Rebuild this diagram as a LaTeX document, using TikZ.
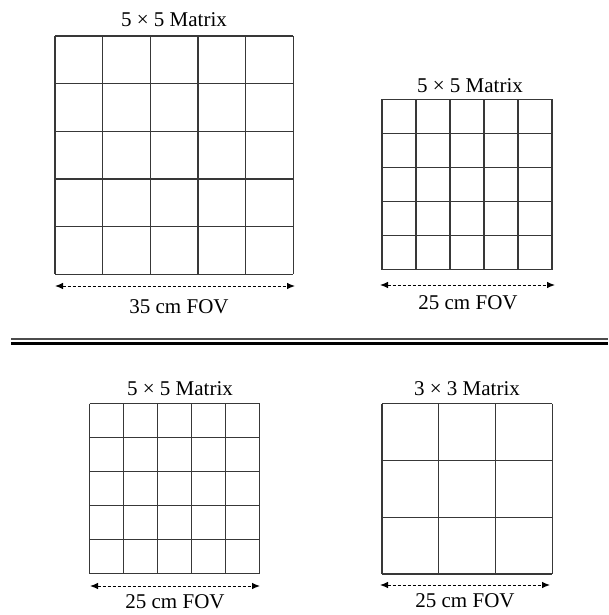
\documentclass[tikz,border=0pt]{standalone}
\usepackage{fontspec}
\setmainfont{Liberation Serif}
\usetikzlibrary{arrows.meta}
\begin{document}
\begin{tikzpicture}[x=1pt,y=-1pt,
  gridline/.style={line width=1.2pt, draw=black!78},
  lbl/.style={font=\fontsize{21}{24}\selectfont, inner sep=0pt, anchor=base},
  fov/.style={line width=1pt, dash pattern=on 3pt off 2pt,
    {Latex[length=8pt,width=6.5pt]}-{Latex[length=8pt,width=6.5pt]}}]
\useasboundingbox (0,0) rectangle (608,615);
% top-left 5x5 (35 cm)
\foreach \i in {0,...,5} {
  \draw[gridline] ({55+\i*47.66},36) -- ({55+\i*47.66},274.3);
  \draw[gridline] (55,{36+\i*47.66}) -- (293.3,{36+\i*47.66});
}
% top-right 5x5 (25 cm)
\foreach \i in {0,...,5} {
  \draw[gridline] ({382+\i*34},99.5) -- ({382+\i*34},269.5);
  \draw[gridline] (382,{99.5+\i*34}) -- (552,{99.5+\i*34});
}
% bottom-left 5x5 (25 cm)
\foreach \i in {0,...,5} {
  \draw[gridline] ({89.5+\i*34},403.5) -- ({89.5+\i*34},573.5);
  \draw[gridline] (89.5,{403.5+\i*34}) -- (259.5,{403.5+\i*34});
}
% bottom-right 3x3 (25 cm)
\foreach \i in {0,...,3} {
  \draw[gridline] ({382+\i*56.8},403.5) -- ({382+\i*56.8},574);
  \draw[gridline] (382,{403.5+\i*56.83}) -- (552.4,{403.5+\i*56.83});
}
% titles
\node[lbl] (t1) at (174,27) {5 × 5 Matrix};
\node[lbl] (t2) at (470,93) {5 × 5 Matrix};
\node[lbl] (t3) at (180,395) {5 × 5 Matrix};
\node[lbl] (t4) at (467,395.5) {3 × 3 Matrix};
% FOV arrows
\coordinate (a1l) at (55,286);  \coordinate (a1r) at (295,286);
\coordinate (a2l) at (380,285); \coordinate (a2r) at (555,285);
\coordinate (a3l) at (90,586);  \coordinate (a3r) at (260,586);
\coordinate (a4l) at (380,585); \coordinate (a4r) at (550,585);
\draw[fov] (a1l) -- (a1r);
\draw[fov] (a2l) -- (a2r);
\draw[fov] (a3l) -- (a3r);
\draw[fov] (a4l) -- (a4r);
\node[lbl] (f1) at (179,313) {35 cm FOV};
\node[lbl] (f2) at (468,309) {25 cm FOV};
\node[lbl] (f3) at (175,608) {25 cm FOV};
\node[lbl] (f4) at (465,607) {25 cm FOV};
% separator
\coordinate (s1) at (11,339); \coordinate (s2) at (608,339);
\coordinate (s3) at (11,343.2); \coordinate (s4) at (608,343.2);
\draw[line width=1.2pt, black!70] (s1) -- (s2);
\draw[line width=3pt, black] (s3) -- (s4);
\end{tikzpicture}
\end{document}
